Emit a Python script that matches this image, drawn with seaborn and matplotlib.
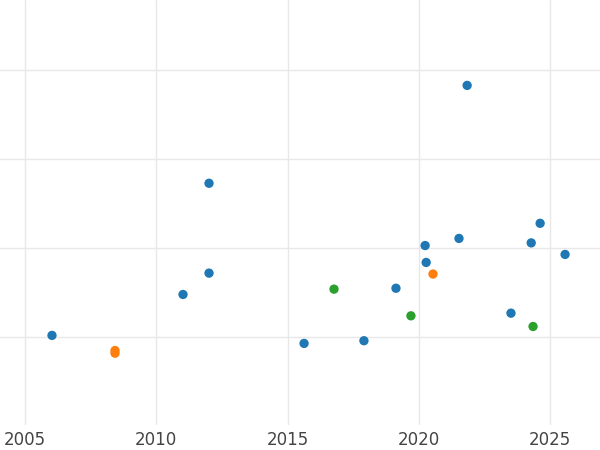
import pandas as pd
import matplotlib
matplotlib.use("Agg")
import matplotlib.pyplot as plt
import seaborn as sns

# values
blue_x = [2006.03, 2011.02, 2012.01, 2012.01, 2015.63, 2017.91, 2019.13, 2020.24,
          2020.28, 2021.53, 2021.84, 2023.51, 2024.28, 2024.62, 2025.57]
blue_y = [0.02, 0.48, 0.72, 1.73, -0.07, -0.04, 0.55, 1.03,
          0.84, 1.11, 2.83, 0.27, 1.06, 1.28, 0.93]
orange_x = [2008.43, 2008.43, 2020.54]
orange_y = [-0.15, -0.18, 0.71]
green_x = [2016.77, 2019.70, 2024.35]
green_y = [0.54, 0.24, 0.12]

df = pd.concat([
    pd.DataFrame({'x': blue_x, 'y': blue_y, 'grp': 'a'}),
    pd.DataFrame({'x': orange_x, 'y': orange_y, 'grp': 'b'}),
    pd.DataFrame({'x': green_x, 'y': green_y, 'grp': 'c'}),
])

sns.set_style('white')
fig, ax = plt.subplots(figsize=(6, 4.5), dpi=100)
fig.subplots_adjust(left=0, right=1, top=1, bottom=0.055)

sns.scatterplot(data=df, x='x', y='y', hue='grp',
                palette=['#1f77b4', '#ff7f0e', '#2ca02c'],
                s=45, edgecolor='none', legend=False, ax=ax)

ax.set_xlim(2004.05, 2026.9)
ax.set_ylim(-0.99, 3.79)
ax.set_xticks([2005, 2010, 2015, 2020, 2025])
ax.set_yticks([0, 1, 2, 3])
ax.set_yticklabels([])
ax.grid(True, color='#e8e8e8', linewidth=1)
ax.set_axisbelow(True)
ax.tick_params(axis='x', labelsize=12, colors='#444444', length=0, pad=4)
ax.tick_params(axis='y', length=0)
ax.set_xlabel('')
ax.set_ylabel('')
for s in ax.spines.values():
    s.set_visible(False)

fig.savefig('out.png')
